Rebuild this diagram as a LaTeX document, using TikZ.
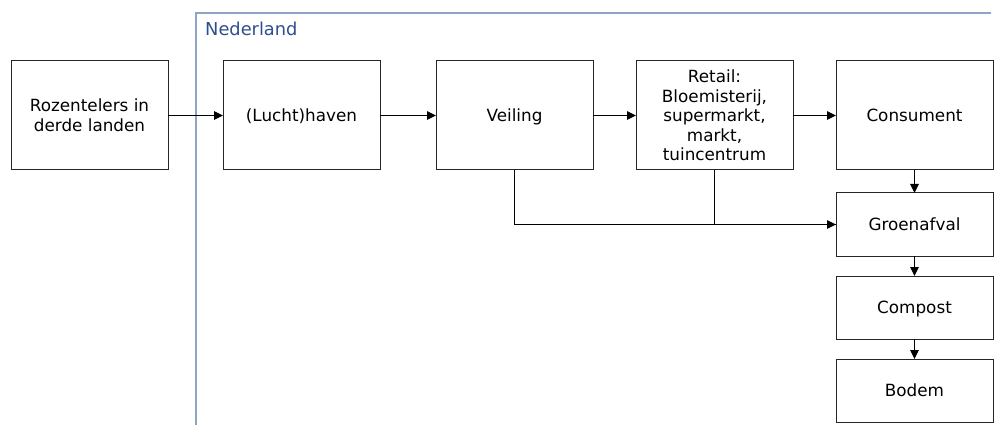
\documentclass[tikz,border=0pt]{standalone}
\usepackage{fontspec}
\setmainfont{DejaVu Sans}
\usepackage{tikz}
\usetikzlibrary{%
   arrows.meta,%
   positioning}

\definecolor{landblue}{HTML}{8FA3C6}
\definecolor{landtext}{HTML}{2F4E8C}

\begin{document}
\begin{tikzpicture}
			[x=1pt,y=-1pt,>={Triangle[length=9pt,width=8.5pt]},
			every node/.style={font=\fontsize{16.8}{19.6}\selectfont},
			stap/.style={draw=black!85,line width=1pt,outer sep=0pt,minimum width=157pt,minimum height=109pt,align=center,inner sep=2pt},
			enkel/.style={text height=14pt,text depth=2pt},
			afval/.style={stap,enkel,minimum height=63pt},
			pijl/.style={->,line width=1pt,draw=black}]
			\useasboundingbox (0,0) rectangle (994,425);
			% kader Nederland
			\draw [landblue,line width=1.5pt] (196,425) -- (196,13) -- (991,13);
			\node [anchor=base west,inner sep=0pt,text=landtext,font=\fontsize{17.8}{20}\selectfont] (land) at (205,36) {Nederland};
			% keten
			\node [stap] (teler) at (89.5,115.5) {Rozentelers in\\derde landen};
			\node [stap,enkel] (haven) [right=55pt of teler] {(Lucht)haven};
			\node [stap,enkel] (veiling) [right=56pt of haven] {Veiling};
			\node [stap] (retail) [right=43pt of veiling] {Retail:\\Bloemisterij,\\supermarkt,\\markt,\\tuincentrum};
			\node [stap,enkel] (consument) [right=43pt of retail] {Consument};
			\node [afval] (groen) [below=23pt of consument] {Groenafval};
			\node [afval] (compost) [below=20pt of groen] {Compost};
			\node [afval] (bodem) [below=20pt of compost] {Bodem};
			\draw [pijl] (teler) -- (haven);
			\draw [pijl] (haven) -- (veiling);
			\draw [pijl] (veiling) -- (retail);
			\draw [pijl] (retail) -- (consument);
			\draw [pijl] (consument) -- (groen);
			\draw [pijl] (groen) -- (compost);
			\draw [pijl] (compost) -- (bodem);
			\draw [pijl] (veiling.south) |- (groen.west);
			\draw [line width=1pt] (retail.south) |- (groen.west);
		\end{tikzpicture}
\end{document}
